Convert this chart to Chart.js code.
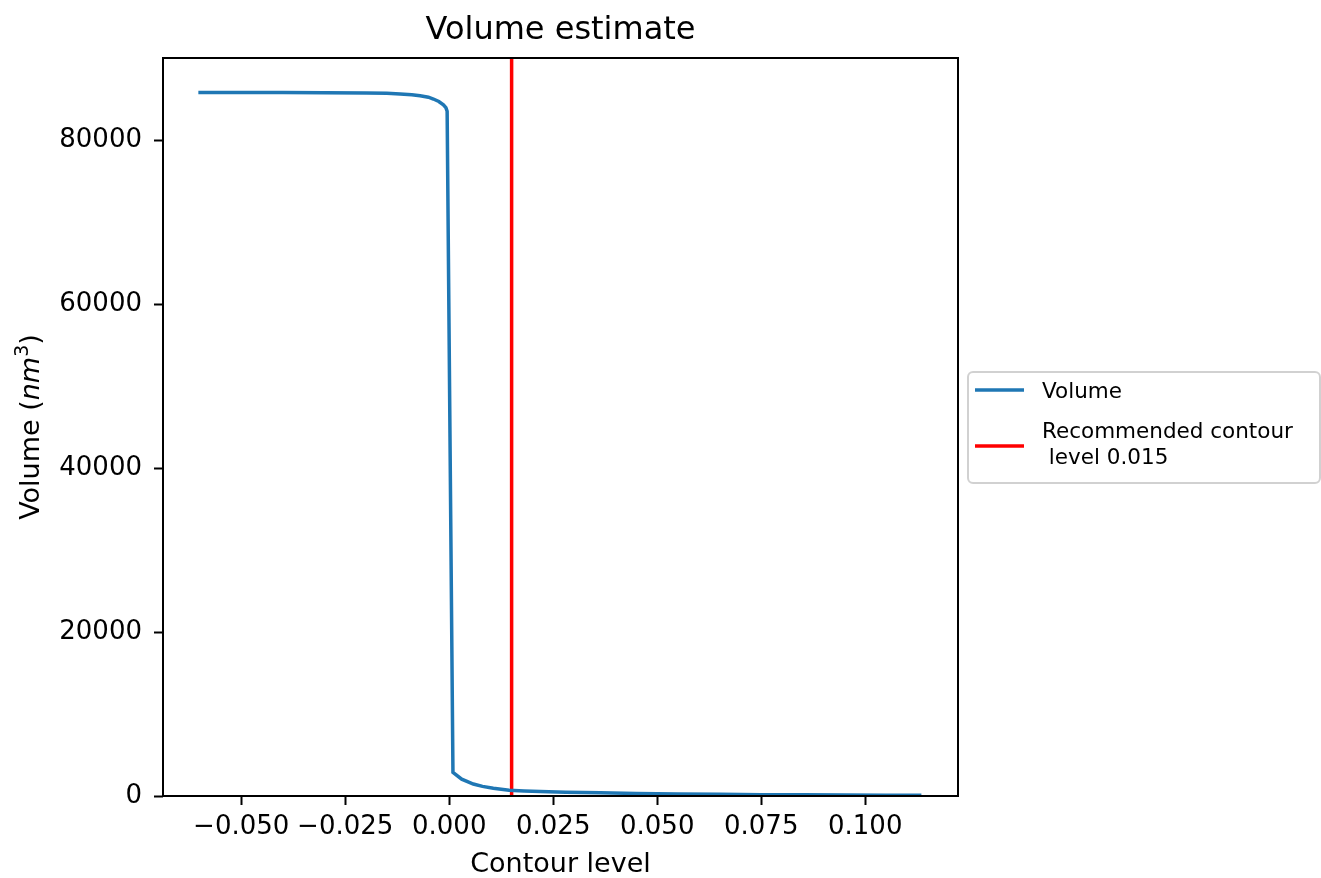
<!DOCTYPE html>
<html>
<head>
<meta charset="utf-8">
<title>Volume estimate</title>
<script src="https://cdn.jsdelivr.net/npm/chart.js@4.4.1/dist/chart.umd.min.js"></script>
<style>
  html, body { margin: 0; padding: 0; background: #fff; }
  #wrap { width: 1321px; height: 878px; }
</style>
</head>
<body>
<div id="wrap"><canvas id="volumeChart" width="1321" height="878"></canvas></div>
<script>
// Data
const contourLevels = [
  -0.0603, -0.050, -0.040, -0.030, -0.020, -0.015, -0.0118, -0.009, -0.007,
  -0.005, -0.0038, -0.0025, -0.0014, -0.0008, -0.0005, 0.0009, 0.003, 0.0058, 0.008,
  0.0106, 0.0144, 0.018, 0.0219, 0.028, 0.0363, 0.045, 0.055, 0.065, 0.075,
  0.085, 0.095, 0.105, 0.1135
];
const volumes = [
  85790, 85790, 85785, 85775, 85740, 85690, 85620, 85520, 85400,
  85220, 85000, 84700, 84300, 83950, 83500, 2880, 2050, 1460, 1170,
  940, 700, 620, 560, 470, 390, 310, 250, 200, 165,
  140, 120, 105, 90
];
const recommendedLevel = 0.015;
const recommendedSpan = [0, 90000];
const xTicks = [-0.05, -0.025, 0, 0.025, 0.05, 0.075, 0.1];
const yTicks = [0, 20000, 40000, 60000, 80000];
const volumeLabel = 'Volume';
const recommendedLabel = ['Recommended contour', ' level 0.015'];

const FONT = "'DejaVu Sans', sans-serif";
const BLUE = '#1f77b4';
const RED = '#ff0000';

// Box around the axes, like matplotlib's spines
const framePlugin = {
  id: 'frame',
  afterDatasetsDraw(chart) {
    const { ctx, chartArea: a } = chart;
    ctx.save();
    ctx.strokeStyle = '#000';
    ctx.lineWidth = 2;
    ctx.strokeRect(a.left, a.top, a.right - a.left, a.bottom - a.top);
    ctx.restore();
  },
};

// Y axis title with italic nm and superscript 3
const yTitlePlugin = {
  id: 'yTitle',
  afterDraw(chart) {
    const { ctx, chartArea: a } = chart;
    const parts = [
      { t: 'Volume (', f: `27px ${FONT}`, dy: 0 },
      { t: 'nm', f: `italic 27px ${FONT}`, dy: 0 },
      { t: '3', f: `19px ${FONT}`, dy: -11 },
      { t: ')', f: `27px ${FONT}`, dy: 0 },
    ];
    ctx.save();
    let total = 0;
    parts.forEach((p) => { ctx.font = p.f; p.w = ctx.measureText(p.t).width; total += p.w; });
    ctx.translate(39, (a.top + a.bottom) / 2);
    ctx.rotate(-Math.PI / 2);
    ctx.fillStyle = '#000';
    ctx.textBaseline = 'alphabetic';
    let x = -total / 2;
    parts.forEach((p) => { ctx.font = p.f; ctx.fillText(p.t, x, p.dy); x += p.w; });
    ctx.restore();
  },
};

// Legend outside the axes on the right
const legendPlugin = {
  id: 'outerLegend',
  afterDraw(chart) {
    const { ctx } = chart;
    const ds = chart.data.datasets;
    ctx.save();
    const bx = 968, by = 372, bw = 352, bh = 111, r = 5;
    ctx.beginPath();
    ctx.moveTo(bx + r, by);
    ctx.arcTo(bx + bw, by, bx + bw, by + bh, r);
    ctx.arcTo(bx + bw, by + bh, bx, by + bh, r);
    ctx.arcTo(bx, by + bh, bx, by, r);
    ctx.arcTo(bx, by, bx + bw, by, r);
    ctx.closePath();
    ctx.fillStyle = 'rgba(255,255,255,0.8)';
    ctx.fill();
    ctx.strokeStyle = 'rgba(204,204,204,0.9)';
    ctx.lineWidth = 2;
    ctx.stroke();

    const entries = [
      { color: ds[0].borderColor, y: 390, lines: [ds[0].label], ty: [392] },
      { color: ds[1].borderColor, y: 446, lines: recommendedLabel, ty: [432, 458] },
    ];
    ctx.font = `21.5px ${FONT}`;
    ctx.textBaseline = 'middle';
    ctx.fillStyle = '#000';
    entries.forEach((e) => {
      ctx.beginPath();
      ctx.strokeStyle = e.color;
      ctx.lineWidth = 3.5;
      ctx.moveTo(975, e.y);
      ctx.lineTo(1024, e.y);
      ctx.stroke();
      e.lines.forEach((line, i) => ctx.fillText(line, 1042, e.ty[i]));
    });
    ctx.restore();
  },
};

const volumePoints = contourLevels.map((x, i) => ({ x, y: volumes[i] }));
const recommendedPoints = recommendedSpan.map((y) => ({ x: recommendedLevel, y }));

new Chart(document.getElementById('volumeChart'), {
  type: 'scatter',
  data: {
    datasets: [
      {
        label: volumeLabel,
        data: volumePoints,
        showLine: true,
        borderColor: BLUE,
        backgroundColor: BLUE,
        borderWidth: 3.5,
        pointRadius: 0,
        tension: 0,
      },
      {
        label: recommendedLabel.join('\n'),
        data: recommendedPoints,
        showLine: true,
        borderColor: RED,
        backgroundColor: RED,
        borderWidth: 3.5,
        pointRadius: 0,
      },
    ],
  },
  options: {
    responsive: false,
    animation: false,
    layout: { padding: { left: 0, right: 363, top: 0, bottom: 0 } },
    plugins: {
      legend: { display: false },
      tooltip: { enabled: false },
      title: {
        display: true,
        text: 'Volume estimate',
        color: '#000',
        fullSize: false,
        font: { family: FONT, size: 32, weight: 'normal' },
        padding: { top: 11, bottom: 8.6 },
      },
    },
    scales: {
      x: {
        type: 'linear',
        min: -0.0688,
        max: 0.1223,
        afterBuildTicks: (s) => { s.ticks = xTicks.map((value) => ({ value })); },
        afterFit: (s) => { s.height = 82; },
        border: { display: false },
        grid: { drawOnChartArea: false, drawTicks: true, tickLength: 9, tickWidth: 2, color: '#000' },
        ticks: {
          color: '#000',
          padding: 7,
          maxRotation: 0,
          autoSkip: false,
          font: { family: FONT, size: 26 },
          callback: (v) => (v < 0 ? '\u2212' : '') + Math.abs(v).toFixed(3),
        },
        title: {
          display: true,
          text: 'Contour level',
          color: '#000',
          font: { family: FONT, size: 27, lineHeight: 1 },
          padding: { top: 0, bottom: 0 },
        },
      },
      y: {
        type: 'linear',
        min: 0,
        max: 90000,
        afterBuildTicks: (s) => { s.ticks = yTicks.map((value) => ({ value })); },
        afterFit: (s) => { s.width = 163; },
        border: { display: false },
        grid: { drawOnChartArea: false, drawTicks: true, tickLength: 9, tickWidth: 2, color: '#000' },
        ticks: {
          color: '#000',
          padding: 12,
          autoSkip: false,
          font: { family: FONT, size: 26 },
          callback: (v) => String(v),
        },
        title: { display: false },
      },
    },
  },
  plugins: [framePlugin, yTitlePlugin, legendPlugin],
});
</script>
</body>
</html>
